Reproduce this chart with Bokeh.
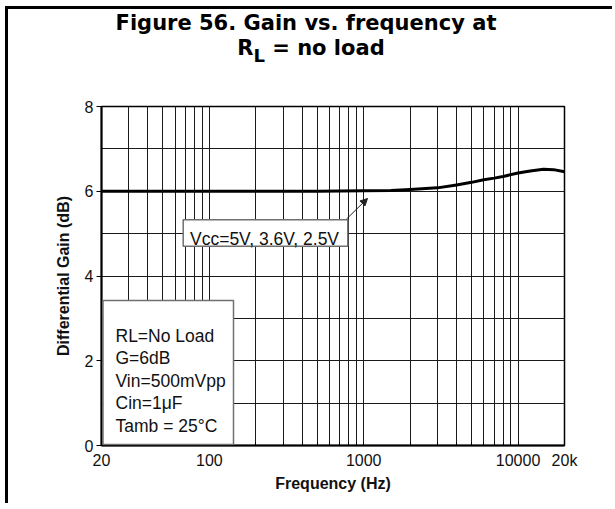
import math
from bokeh.plotting import figure
from bokeh.layouts import column
from bokeh.models import Range1d, FixedTicker, Label, BoxAnnotation, Arrow, NormalHead, ColumnDataSource, Div
from bokeh.embed import file_html
from bokeh.resources import INLINE

# ---------------- data ----------------
freq_hz = [20, 50, 100, 200, 500, 1000, 1500, 2000, 3000, 4000, 5000, 6000,
           7000, 8000, 10000, 12000, 14600, 17000, 20000]
gain_db = [6.0, 6.0, 6.0, 6.0, 6.0, 6.01, 6.02, 6.04, 6.08, 6.15, 6.21, 6.27,
           6.31, 6.35, 6.43, 6.48, 6.52, 6.51, 6.46]

x_major_ticks = [20, 100, 1000, 10000, 20000]
x_major_labels = ["20", "100", "1000", "10000", "20k"]
x_grid_ticks = [20, 30, 40, 50, 60, 70, 80, 90,
                100, 200, 300, 400, 500, 600, 700, 800, 900,
                1000, 2000, 3000, 4000, 5000, 6000, 7000, 8000, 9000,
                10000, 20000]
y_major_ticks = [0, 2, 4, 6, 8]
y_grid_ticks = [0, 1, 2, 3, 4, 5, 6, 7, 8]

title_line1 = "Figure 56. Gain vs. frequency at"
title_r = "R"
title_sub = "L"
title_rest = " = no load"
x_label = "Frequency (Hz)"
y_label = "Differential Gain (dB)"
callout_text = "Vcc=5V, 3.6V, 2.5V"
conditions = ["RL=No Load", "G=6dB", "Vin=500mVpp", "Cin=1\u03bcF", "Tamb = 25\u00b0C"]

# ---------------- layout ----------------
TW = 612           # total width
TH = 503           # total height
DH = 62            # title div height
W, H = TW, TH - DH
FL, FR, FT, FB = 101, 564, 106, 445      # frame edges in page pixels
ML, MR = FL, TW - FR
MT, MB = FT - DH, TH - FB
XMIN, XMAX, YMIN, YMAX = 20, 20000, 0, 8


def X(px):
    return 10 ** (math.log10(XMIN) + (px - FL) / (FR - FL) * (math.log10(XMAX) - math.log10(XMIN)))


def Y(py):
    return YMIN + (FB - py) / (FB - FT) * (YMAX - YMIN)


title_html = (
    '<div style="font-family: \'DejaVu Sans\'; font-weight: bold; font-size: 21px; '
    'line-height: 25px; color: #000; text-align: center; width: %dpx; padding-top: 11px;">'
    '<div>%s</div>'
    '<div style="padding-left: 10px;">%s<span style="position: relative; top: 7px; '
    'font-size: 18px;">%s</span>%s</div></div>'
) % (TW, title_line1, title_r, title_sub, title_rest)

# page frame lines (left and top edges, as in the source document)
frame_css = (
    ":host { position: relative; overflow: visible; }\n"
    ":host::before { content: ''; position: absolute; left: 5px; top: 6px; "
    "width: 2.5px; height: %dpx; background: #000; border: none; "
    "pointer-events: none; z-index: 10; }\n"
    ":host::after { content: ''; position: absolute; left: 5px; top: 6px; "
    "width: %dpx; height: 2.5px; background: #000; border: none; "
    "pointer-events: none; z-index: 10; }"
) % (TH - 6, TW - 5)

title_div = Div(text=title_html, width=TW, height=DH, margin=0,
                styles={"margin": "0", "padding": "0"}, stylesheets=[frame_css])

p = figure(width=W, height=H, x_axis_type="log",
           x_range=Range1d(XMIN, XMAX), y_range=Range1d(YMIN, YMAX),
           output_backend="svg", toolbar_location=None, margin=0,
           min_border_left=ML, min_border_right=MR, min_border_top=MT, min_border_bottom=MB,
           background_fill_color="white", border_fill_color="white")

p.outline_line_color = "black"
p.outline_line_width = 1.5
p.outline_line_alpha = 1

# grids
p.xgrid.ticker = FixedTicker(ticks=x_grid_ticks)
p.ygrid.ticker = FixedTicker(ticks=y_grid_ticks)
for g in (p.xgrid, p.ygrid):
    g.grid_line_color = "#1a1a1a"
    g.grid_line_width = 1
    g.grid_line_alpha = 1

# axes
p.xaxis.ticker = FixedTicker(ticks=x_major_ticks, minor_ticks=x_grid_ticks)
p.xaxis.major_label_overrides = {t: l for t, l in zip(x_major_ticks, x_major_labels)}
p.yaxis.ticker = FixedTicker(ticks=y_major_ticks, minor_ticks=[])
for ax in (p.xaxis, p.yaxis):
    ax.axis_line_color = "black"
    ax.axis_line_width = 2
    ax.major_tick_line_color = "black"
    ax.minor_tick_line_color = "black"
    ax.major_label_text_font = "Liberation Sans"
    ax.major_label_text_font_size = "16px"
    ax.major_label_text_color = "#111111"
    ax.axis_label_text_font = "Liberation Sans"
    ax.axis_label_text_font_style = "bold"
    ax.axis_label_text_font_size = "16px"
    ax.axis_label_text_color = "#111111"
p.xaxis.major_tick_in = 3
p.xaxis.major_tick_out = 0
p.xaxis.minor_tick_in = 3
p.xaxis.minor_tick_out = 0
p.xaxis.major_label_standoff = 6
p.xaxis.axis_label = x_label
p.xaxis.axis_label_standoff = 3
p.yaxis.major_tick_in = 0
p.yaxis.major_tick_out = 5
p.yaxis.minor_tick_in = 0
p.yaxis.minor_tick_out = 0
p.yaxis.major_label_standoff = 3
p.yaxis.axis_label = y_label
p.yaxis.axis_label_standoff = 10

# curve
src = ColumnDataSource(data=dict(f=freq_hz, g=gain_db))
p.line("f", "g", source=src, line_color="black", line_width=3, line_join="round", line_cap="round")

# conditions box
p.add_layout(BoxAnnotation(left=X(102.5), right=X(233), top=Y(300), bottom=Y(444),
                           fill_color="white", fill_alpha=1, line_color="#707070",
                           line_width=1.5, line_alpha=1))
for i, txt in enumerate(conditions):
    p.add_layout(Label(x=X(115), y=Y(335 + 22.5 * i), text=txt, text_align="left",
                       text_baseline="alphabetic", text_font="Liberation Sans",
                       text_font_size="17.5px", text_color="#111111"))

# callout box + arrow
p.add_layout(BoxAnnotation(left=X(182.7), right=X(347.3), top=Y(219.3), bottom=Y(245.7),
                           fill_color="white", fill_alpha=1, line_color="#707070",
                           line_width=1.5, line_alpha=1))
p.add_layout(Label(x=X(189.5), y=Y(238.5), text=callout_text, text_align="left",
                   text_baseline="alphabetic", text_font="Liberation Sans",
                   text_font_size="17.5px", text_color="#111111"))
p.add_layout(Arrow(x_start=X(346), y_start=Y(218.5), x_end=X(367), y_end=Y(198),
                   line_color="#222222", line_width=1,
                   end=NormalHead(size=7, fill_color="#222222", line_color="#222222")))

layout = column(title_div, p, spacing=0, margin=0)

open("out.html", "w").write(file_html(layout, INLINE))
